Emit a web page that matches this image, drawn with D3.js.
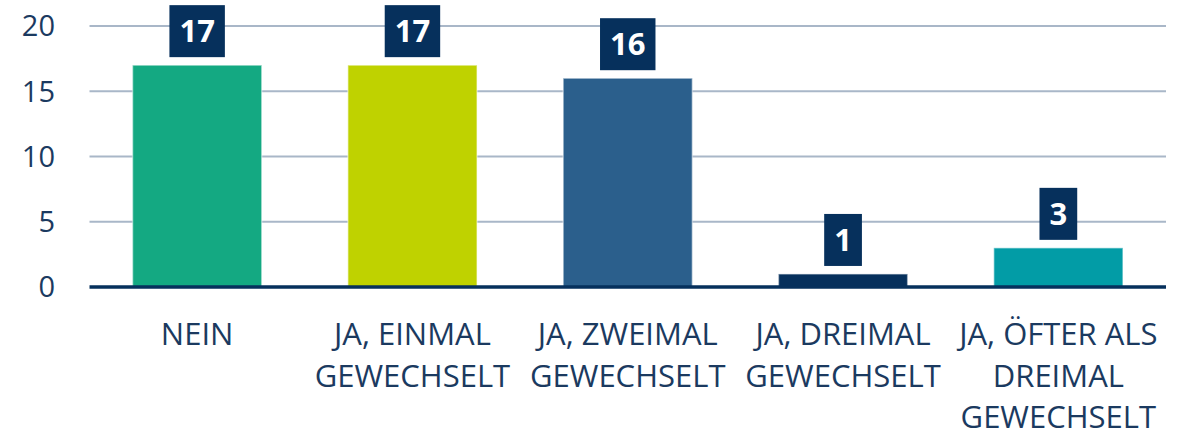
<!DOCTYPE html>
<html>
<head>
<meta charset="utf-8">
<script src="https://cdn.jsdelivr.net/npm/d3@7"></script>
<style>
  body { margin: 0; background: #fff; }
  svg text { font-family: "Open Sans", sans-serif; }
</style>
</head>
<body>
<div id="chart"></div>
<script>
const categories = ["NEIN", "JA, EINMAL GEWECHSELT", "JA, ZWEIMAL GEWECHSELT", "JA, DREIMAL GEWECHSELT", "JA, ÖFTER ALS DREIMAL GEWECHSELT"];
const labelLines = [["NEIN"], ["JA, EINMAL", "GEWECHSELT"], ["JA, ZWEIMAL", "GEWECHSELT"], ["JA, DREIMAL", "GEWECHSELT"], ["JA, ÖFTER ALS", "DREIMAL", "GEWECHSELT"]];
const values = [17, 17, 16, 1, 3];
const colors = ["#14a982", "#bfd200", "#2b5f8c", "#06305c", "#029ca6"];
const yTicks = [0, 5, 10, 15, 20];

const w = 1186;
const h = 433;
const plotLeft = 89.5;
const plotRight = 1166;
const plotTop = 26;
const plotBottom = 287;
const navy = "#06305c";
const textColor = "#1b3a60";

const svg = d3.select("#chart")
              .append("svg")
              .attr("width", w)
              .attr("height", h);

const xScale = d3.scaleBand()
                 .domain(categories)
                 .range([plotLeft, plotRight])
                 .paddingInner(0.4)
                 .paddingOuter(0.2);

const yScale = d3.scaleLinear()
                 .domain([0, 20])
                 .range([plotBottom, plotTop]);

// gridlines
svg.append("g")
   .selectAll("line")
   .data(yTicks.filter((d) => d > 0))
   .enter()
   .append("line")
   .attr("x1", plotLeft)
   .attr("x2", plotRight)
   .attr("y1", (d) => yScale(d))
   .attr("y2", (d) => yScale(d))
   .attr("stroke", "#a9b7c8")
   .attr("stroke-width", 2);

// y tick labels
svg.append("g")
   .selectAll("text")
   .data(yTicks)
   .enter()
   .append("text")
   .attr("x", 55)
   .attr("y", (d) => yScale(d))
   .attr("dy", "0.36em")
   .attr("text-anchor", "end")
   .attr("font-size", 29)
   .attr("fill", textColor)
   .text((d) => d);

// bars
svg.append("g")
   .selectAll("rect")
   .data(values)
   .enter()
   .append("rect")
   .attr("x", (d, i) => xScale(categories[i]))
   .attr("y", (d) => yScale(d))
   .attr("width", xScale.bandwidth())
   .attr("height", (d) => yScale(0) - yScale(d))
   .attr("fill", (d, i) => colors[i])
   .attr("stroke", "rgba(255,255,255,0.45)")
   .attr("stroke-width", 1.5);

// baseline
svg.append("line")
   .attr("x1", plotLeft)
   .attr("x2", plotRight)
   .attr("y1", yScale(0))
   .attr("y2", yScale(0))
   .attr("stroke", navy)
   .attr("stroke-width", 3.5);

// value labels
const labels = svg.append("g")
                  .selectAll("g")
                  .data(values)
                  .enter()
                  .append("g")
                  .attr("transform", (d, i) => `translate(${xScale(categories[i]) + xScale.bandwidth() / 2}, ${yScale(d) - 8 - 26})`);

labels.append("rect").attr("class", "box").attr("fill", navy);
labels.append("text")
      .attr("text-anchor", "middle")
      .attr("dy", "0.36em")
      .attr("font-size", 31)
      .attr("font-weight", "bold")
      .attr("fill", "#fff")
      .text((d) => d);

labels.each(function () {
  const g = d3.select(this);
  const tw = g.select("text").node().getComputedTextLength();
  g.select("rect")
   .attr("x", -(tw / 2 + 10))
   .attr("y", -26)
   .attr("width", tw + 20)
   .attr("height", 52);
});

// category labels
const cat = svg.append("g")
               .selectAll("text")
               .data(labelLines)
               .enter()
               .append("text")
               .attr("x", (d, i) => xScale(categories[i]) + xScale.bandwidth() / 2)
               .attr("y", 345)
               .attr("text-anchor", "middle")
               .attr("font-size", 31)
               .attr("fill", textColor);

cat.selectAll("tspan")
   .data((d) => d)
   .enter()
   .append("tspan")
   .attr("x", function () { return d3.select(this.parentNode).attr("x"); })
   .attr("dy", (d, i) => i === 0 ? 0 : 41.5)
   .text((d) => d);
</script>
</body>
</html>
